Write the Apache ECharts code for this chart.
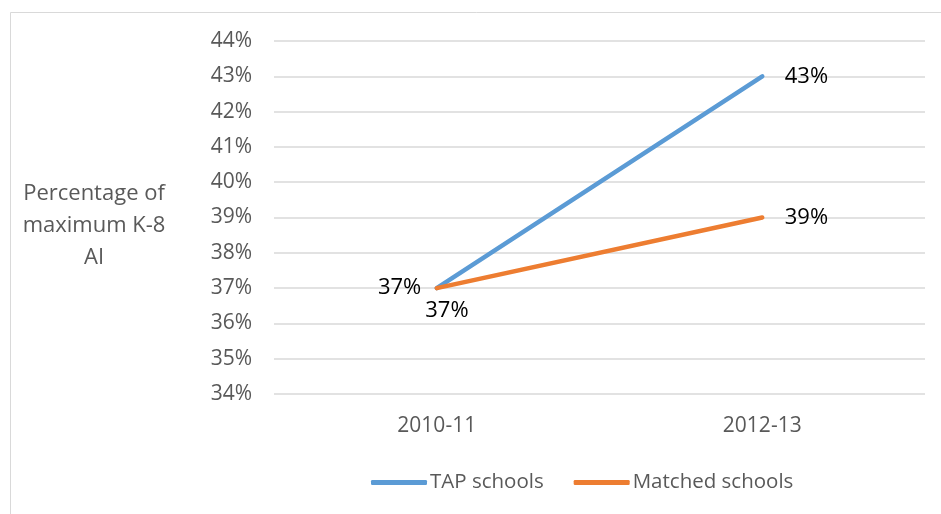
<!DOCTYPE html>
<html>
<head>
<meta charset="utf-8">
<script src="https://cdn.jsdelivr.net/npm/echarts@6/dist/echarts.min.js"></script>
<style>
  html, body { margin: 0; padding: 0; background: #fff; }
  #main { width: 941px; height: 514px; }
</style>
</head>
<body>
<div id="main"></div>
<script>
// data
var years = ['2010-11', '2012-13'];
var tapSchools = [37, 43];
var matchedSchools = [37, 39];
var yTicks = [34, 35, 36, 37, 38, 39, 40, 41, 42, 43, 44];

var font = '"Open Sans", sans-serif';
var myChart = echarts.init(document.getElementById('main'));

var option = {
  backgroundColor: '#fff',
  animation: false,
  textStyle: { fontFamily: font },
  grid: { left: 274, right: 16, top: 41, bottom: 120, containLabel: false },
  graphic: [
    {
      type: 'rect',
      shape: { x: 10.5, y: 12.5, width: 960, height: 540 },
      style: { fill: 'none', stroke: '#d9d9d9', lineWidth: 1 }
    },
    {
      type: 'text',
      x: 94, y: 178,
      style: {
        text: 'Percentage of\nmaximum K-8\nAI',
        align: 'center',
        fill: '#595959',
        font: '22px ' + font,
        lineHeight: 32
      }
    }
  ],
  legend: {
    bottom: 16,
    left: 366,
    icon: 'roundRect',
    itemWidth: 56,
    itemHeight: 5,
    itemGap: 30,
    itemStyle: { opacity: 1 },
    textStyle: { color: '#595959', fontSize: 20.5, fontFamily: font, padding: [0, 0, 0, -2] },
    data: ['TAP schools', 'Matched schools']
  },
  xAxis: {
    type: 'category',
    data: years,
    boundaryGap: true,
    axisLine: { show: false },
    axisTick: { show: false },
    axisLabel: { color: '#595959', fontSize: 21, margin: 22 }
  },
  yAxis: {
    type: 'value',
    min: yTicks[0],
    max: yTicks[yTicks.length - 1],
    interval: 1,
    axisLine: { show: false },
    axisTick: { show: false },
    splitLine: { lineStyle: { color: '#d9d9d9', width: 1.5 } },
    axisLabel: { color: '#595959', fontSize: 21, margin: 22, formatter: '{value}%' }
  },
  series: [
    {
      name: 'TAP schools',
      type: 'line',
      data: tapSchools,
      color: '#5b9bd5',
      lineStyle: { width: 4.5, cap: 'round' },
      symbol: 'circle',
      symbolSize: 1,
      showSymbol: true,
      itemStyle: { opacity: 0 },
      label: {
        show: true,
        position: 'right',
        distance: 22,
        color: '#000',
        fontSize: 22,
        opacity: 1,
        formatter: '{c}%'
      },
      labelLayout: function (p) {
        if (p.dataIndex === 0) {
          return { dx: -p.labelRect.width - 38 };
        }
      }
    },
    {
      name: 'Matched schools',
      type: 'line',
      data: matchedSchools,
      color: '#ed7d31',
      lineStyle: { width: 4.5, cap: 'round' },
      symbol: 'circle',
      symbolSize: 1,
      showSymbol: true,
      itemStyle: { opacity: 0 },
      label: {
        show: true,
        position: 'right',
        distance: 22,
        color: '#000',
        fontSize: 22,
        opacity: 1,
        formatter: '{c}%'
      },
      labelLayout: function (p) {
        if (p.dataIndex === 0) {
          return { dx: -34, dy: 23 };
        }
      }
    }
  ]
};
myChart.setOption(option);
</script>
</body>
</html>
